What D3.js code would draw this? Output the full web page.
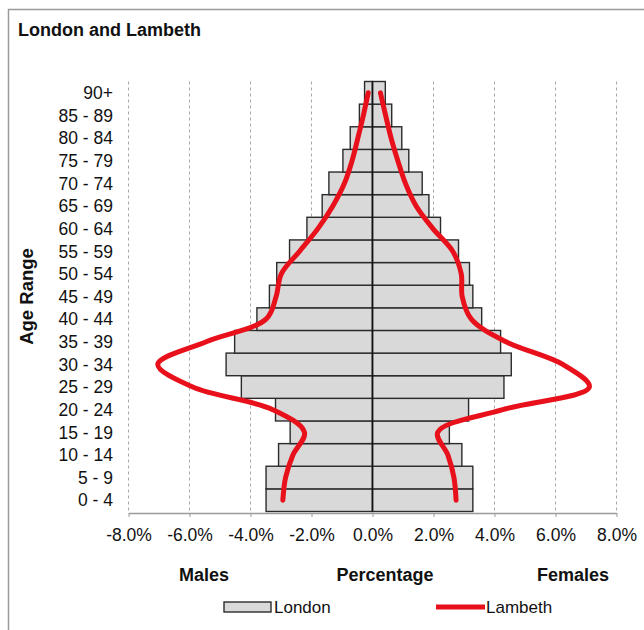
<!DOCTYPE html>
<html>
<head>
<meta charset="utf-8">
<script src="https://cdn.jsdelivr.net/npm/d3@7"></script>
<style>
  body { margin: 0; background: #fff; }
  svg text { font-family: "Liberation Sans", Arial, sans-serif; fill: #111; }
</style>
</head>
<body>
<div id="chart"></div>
<script>
var width = 644;
var height = 630;

// Age bands, bottom to top
var ages = ["0 - 4", "5 - 9", "10 - 14", "15 - 19", "20 - 24", "25 - 29", "30 - 34",
    "35 - 39", "40 - 44", "45 - 49", "50 - 54", "55 - 59", "60 - 64", "65 - 69",
    "70 - 74", "75 - 79", "80 - 84", "85 - 89", "90+"];

// London (bars), percent of population
var londonMales = [3.49, 3.49, 3.08, 2.70, 3.18, 4.30, 4.80, 4.52, 3.79, 3.38,
    3.14, 2.72, 2.15, 1.65, 1.43, 0.97, 0.73, 0.43, 0.26];
var londonFemales = [3.29, 3.29, 2.93, 2.52, 3.15, 4.31, 4.55, 4.20, 3.58, 3.29,
    3.18, 2.82, 2.23, 1.85, 1.63, 1.19, 0.96, 0.63, 0.42];

// Lambeth (lines)
var lambethMales = [2.94, 2.85, 2.61, 2.23, 3.27, 5.89, 7.04, 5.45, 3.49, 3.16,
    2.99, 2.39, 1.79, 1.30, 0.92, 0.67, 0.48, 0.30, 0.14];
var lambethFemales = [2.74, 2.67, 2.47, 2.14, 4.27, 7.11, 6.24, 4.38, 3.24, 2.94,
    2.91, 2.63, 1.98, 1.43, 1.08, 0.83, 0.61, 0.43, 0.26];

var xTicks = [-8, -6, -4, -2, 0, 2, 4, 6, 8];

var svg = d3.select("#chart")
    .append("svg")
    .attr("width", width)
    .attr("height", height);

// frame
svg.append("rect")
    .attr("x", 8.5)
    .attr("y", 9.5)
    .attr("width", 700)
    .attr("height", 700)
    .attr("fill", "none")
    .attr("stroke", "#9a9a9a")
    .attr("stroke-width", 1.5);

// title
svg.append("text")
    .attr("x", 18)
    .attr("y", 36)
    .attr("font-size", 18)
    .attr("font-weight", "bold")
    .text("London and Lambeth");

var x = d3.scaleLinear().domain([-8, 8]).range([128.5, 616.5]);
var y = d3.scaleBand().domain(ages.slice().reverse()).range([81.5, 511.5]).padding(0);
var bw = y.bandwidth();
var plotTop = y.range()[0], plotBottom = y.range()[1];

// dashed gridlines
svg.append("g")
    .selectAll("line")
    .data(xTicks.filter(function(d) { return d !== 0; }))
    .join("line")
    .attr("x1", function(d) { return x(d); })
    .attr("x2", function(d) { return x(d); })
    .attr("y1", plotTop)
    .attr("y2", plotBottom)
    .attr("stroke", "#a8a8a8")
    .attr("stroke-width", 1)
    .attr("stroke-dasharray", "3,3");

// London bars
var bars = svg.append("g");
ages.forEach(function(a, i) {
    bars.append("rect")
        .attr("x", x(-londonMales[i]))
        .attr("y", y(a))
        .attr("width", x(0) - x(-londonMales[i]))
        .attr("height", bw)
        .attr("fill", "#d9d9d9")
        .attr("stroke", "#2b2b2b")
        .attr("stroke-width", 1.4);
    bars.append("rect")
        .attr("x", x(0))
        .attr("y", y(a))
        .attr("width", x(londonFemales[i]) - x(0))
        .attr("height", bw)
        .attr("fill", "#d9d9d9")
        .attr("stroke", "#2b2b2b")
        .attr("stroke-width", 1.4);
});

// zero line
svg.append("line")
    .attr("x1", x(0))
    .attr("x2", x(0))
    .attr("y1", plotTop)
    .attr("y2", plotBottom)
    .attr("stroke", "#111")
    .attr("stroke-width", 1.5);

// x axis
var xAxis = svg.append("g")
    .attr("transform", "translate(0," + (plotBottom + 1.5) + ")")
    .call(d3.axisBottom(x)
        .tickValues(xTicks)
        .tickSize(4)
        .tickSizeOuter(0)
        .tickPadding(12)
        .tickFormat(function(d) { return d.toFixed(1) + "%"; }));
xAxis.select(".domain").attr("stroke", "#9a9a9a").attr("stroke-width", 1.5);
xAxis.selectAll(".tick line").attr("stroke", "#9a9a9a");
xAxis.selectAll("text")
    .attr("font-size", 17.5)
    .attr("fill", "#111")
    .style("font-family", "'Liberation Sans', Arial, sans-serif");

// y labels
svg.append("g")
    .selectAll("text")
    .data(ages)
    .join("text")
    .attr("x", 113)
    .attr("y", function(d) { return y(d) + bw / 2; })
    .attr("dy", "0.36em")
    .attr("text-anchor", "end")
    .attr("font-size", 17.5)
    .text(function(d) { return d; });

// Age Range title
svg.append("text")
    .attr("transform", "translate(33," + ((plotTop + plotBottom) / 2) + ") rotate(-90)")
    .attr("text-anchor", "middle")
    .attr("font-size", 18.5)
    .attr("font-weight", "bold")
    .text("Age Range");

// Lambeth lines
var lineMale = d3.line()
    .x(function(d, i) { return x(-lambethMales[i]); })
    .y(function(d) { return y(d) + bw / 2; })
    .curve(d3.curveCatmullRom.alpha(0.5));
var lineFemale = d3.line()
    .x(function(d, i) { return x(lambethFemales[i]); })
    .y(function(d) { return y(d) + bw / 2; })
    .curve(d3.curveCatmullRom.alpha(0.5));

svg.append("path")
    .attr("d", lineMale(ages))
    .attr("fill", "none")
    .attr("stroke", "#e8101a")
    .attr("stroke-width", 5)
    .attr("stroke-linecap", "round");
svg.append("path")
    .attr("d", lineFemale(ages))
    .attr("fill", "none")
    .attr("stroke", "#e8101a")
    .attr("stroke-width", 5)
    .attr("stroke-linecap", "round");

// axis captions
var captions = [["Males", 204], ["Percentage", 385], ["Females", 573]];
captions.forEach(function(c) {
    svg.append("text")
        .attr("x", c[1])
        .attr("y", 581)
        .attr("text-anchor", "middle")
        .attr("font-size", 18)
        .attr("font-weight", "bold")
        .text(c[0]);
});

// legend
svg.append("rect")
    .attr("x", 224)
    .attr("y", 602)
    .attr("width", 47)
    .attr("height", 10)
    .attr("fill", "#d9d9d9")
    .attr("stroke", "#2b2b2b")
    .attr("stroke-width", 1.4);
svg.append("text")
    .attr("x", 274)
    .attr("y", 607)
    .attr("dy", "0.36em")
    .attr("font-size", 17)
    .text("London");

svg.append("line")
    .attr("x1", 436)
    .attr("x2", 485)
    .attr("y1", 607)
    .attr("y2", 607)
    .attr("stroke", "#e8101a")
    .attr("stroke-width", 5);
svg.append("text")
    .attr("x", 486)
    .attr("y", 607)
    .attr("dy", "0.36em")
    .attr("font-size", 17)
    .text("Lambeth");
</script>
</body>
</html>
